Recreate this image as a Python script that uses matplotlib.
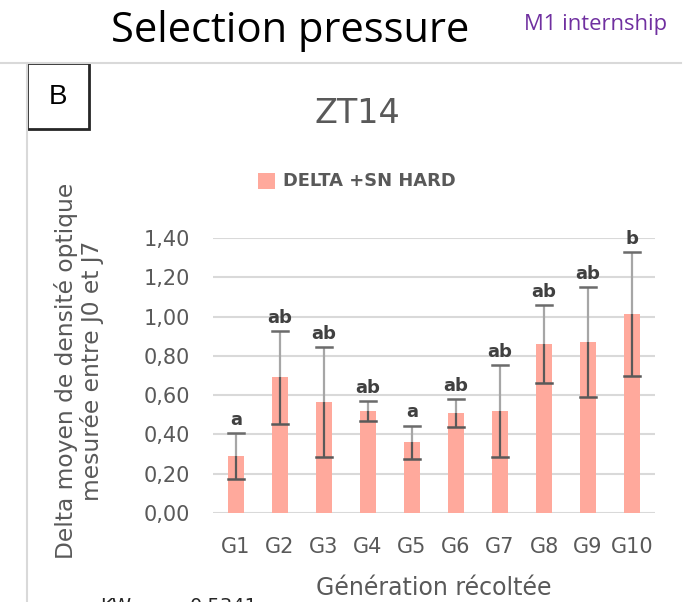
import matplotlib
matplotlib.use("Agg")
import matplotlib.pyplot as plt
from matplotlib.patches import Rectangle
from matplotlib.lines import Line2D

# ---- data ----
generations = ["G1", "G2", "G3", "G4", "G5", "G6", "G7", "G8", "G9", "G10"]
means = [0.29, 0.69, 0.565, 0.52, 0.36, 0.51, 0.52, 0.86, 0.87, 1.015]
sd = [0.115, 0.237, 0.28, 0.05, 0.085, 0.072, 0.235, 0.2, 0.28, 0.315]
letters = ["a", "ab", "ab", "ab", "a", "ab", "ab", "ab", "ab", "b"]
yticks = [0.0, 0.2, 0.4, 0.6, 0.8, 1.0, 1.2, 1.4]
ytick_labels = ["0,00", "0,20", "0,40", "0,60", "0,80", "1,00", "1,20", "1,40"]
series_name = "DELTA +SN HARD"

W, H = 698, 602
plt.rcParams['font.family'] = ['DejaVu Sans']
fig = plt.figure(figsize=(W / 100, H / 100), dpi=100)

def fx(x):
    return x / W

def fy(y):
    return 1 - y / H

GRAY = '#595959'
PINK = '#ffa99c'

# chart frame lines
fig.add_artist(Line2D([fx(0), fx(681)], [fy(63), fy(63)], color='#d9d9d9', lw=1.5))
fig.add_artist(Line2D([fx(27), fx(27)], [fy(63), fy(602)], color='#d9d9d9', lw=1.5))

# header
fig.text(fx(290), fy(42), "Selection pressure", fontsize=30, ha='center', va='baseline',
         color='black', family=['Open Sans', 'DejaVu Sans'])
fig.text(fx(596), fy(30), "M1 internship", fontsize=15.8, ha='center', va='baseline',
         color='#7030a0', family=['Open Sans', 'DejaVu Sans'])

# B box
fig.add_artist(Rectangle((fx(27), fy(129)), fx(89) - fx(27), fy(63) - fy(129),
                         fill=False, edgecolor='#262626', lw=2))
fig.text(fx(58), fy(104), "B", fontsize=20, ha='center', va='baseline', color='black',
         family=['Liberation Sans', 'DejaVu Sans'])

# axes
ax = fig.add_axes([fx(213), fy(513), fx(655) - fx(213), fy(238) - fy(513)])
x = list(range(len(generations)))
ax.bar(x, means, width=0.38, color=PINK, zorder=2, label=series_name)
# error bars: light over background, darker where over the bar
for xi, m, s, lab in zip(x, means, sd, letters):
    lo, hi = m - s, m + s
    ax.plot([xi, xi], [m, hi], color='#a6a6a6', lw=1.6, zorder=3, solid_capstyle='butt')
    ax.plot([xi, xi], [lo, m], color='#595959', lw=1.6, zorder=3, solid_capstyle='butt')
    ax.plot([xi - 0.19, xi + 0.19], [hi, hi], color='#6b6b6b', lw=1.8, zorder=3)
    ax.plot([xi - 0.19, xi + 0.19], [lo, lo], color='#595959', lw=1.8, zorder=3)
    ax.annotate(lab, (xi, hi), xytext=(0, 3), textcoords='offset points',
                ha='center', va='bottom', fontsize=13, fontweight='bold', color='#404040',
                annotation_clip=False)

ax.set_xlim(-0.52, 9.52)
ax.set_ylim(0, 1.4)
ax.set_yticks(yticks)
ax.set_yticklabels(ytick_labels)
ax.set_xticks(x)
ax.set_xticklabels(generations)
ax.tick_params(axis='both', length=0, labelsize=15, labelcolor=GRAY)
ax.tick_params(axis='y', pad=16.5)
ax.tick_params(axis='x', pad=17)
ax.grid(axis='y', color='#d9d9d9', lw=1.5, zorder=0)
ax.set_axisbelow(True)
for sp in ax.spines.values():
    sp.set_visible(False)
ax.patch.set_alpha(0)

# title and legend
fig.text(fx(357), fy(123), "ZT14", fontsize=24, ha='center', va='baseline', color=GRAY)
fig.add_artist(Rectangle((fx(258), fy(189)), fx(275) - fx(258), fy(173) - fy(189),
                         facecolor=PINK, edgecolor='none'))
fig.text(fx(283), fy(186), series_name, fontsize=12.9, ha='left', va='baseline',
         color=GRAY, fontweight='bold')

# axis labels
fig.text(fx(79), fy(371), "Delta moyen de densité optique\nmesurée entre J0 et J7",
         rotation=90, ha='center', va='center', fontsize=16.8, color=GRAY,
         linespacing=1.1)
fig.text(fx(434), fy(595), "Génération récoltée", fontsize=17, ha='center', va='baseline',
         color=GRAY)

# footer text (cut by the bottom edge, as in the source image)
fig.text(fx(100), fy(597), "KW", fontsize=14, ha='left', va='top', color='#262626')
fig.text(fx(190), fy(597), "0,5341", fontsize=14, ha='left', va='top', color='#262626')

fig.savefig("out.png", dpi=100)
